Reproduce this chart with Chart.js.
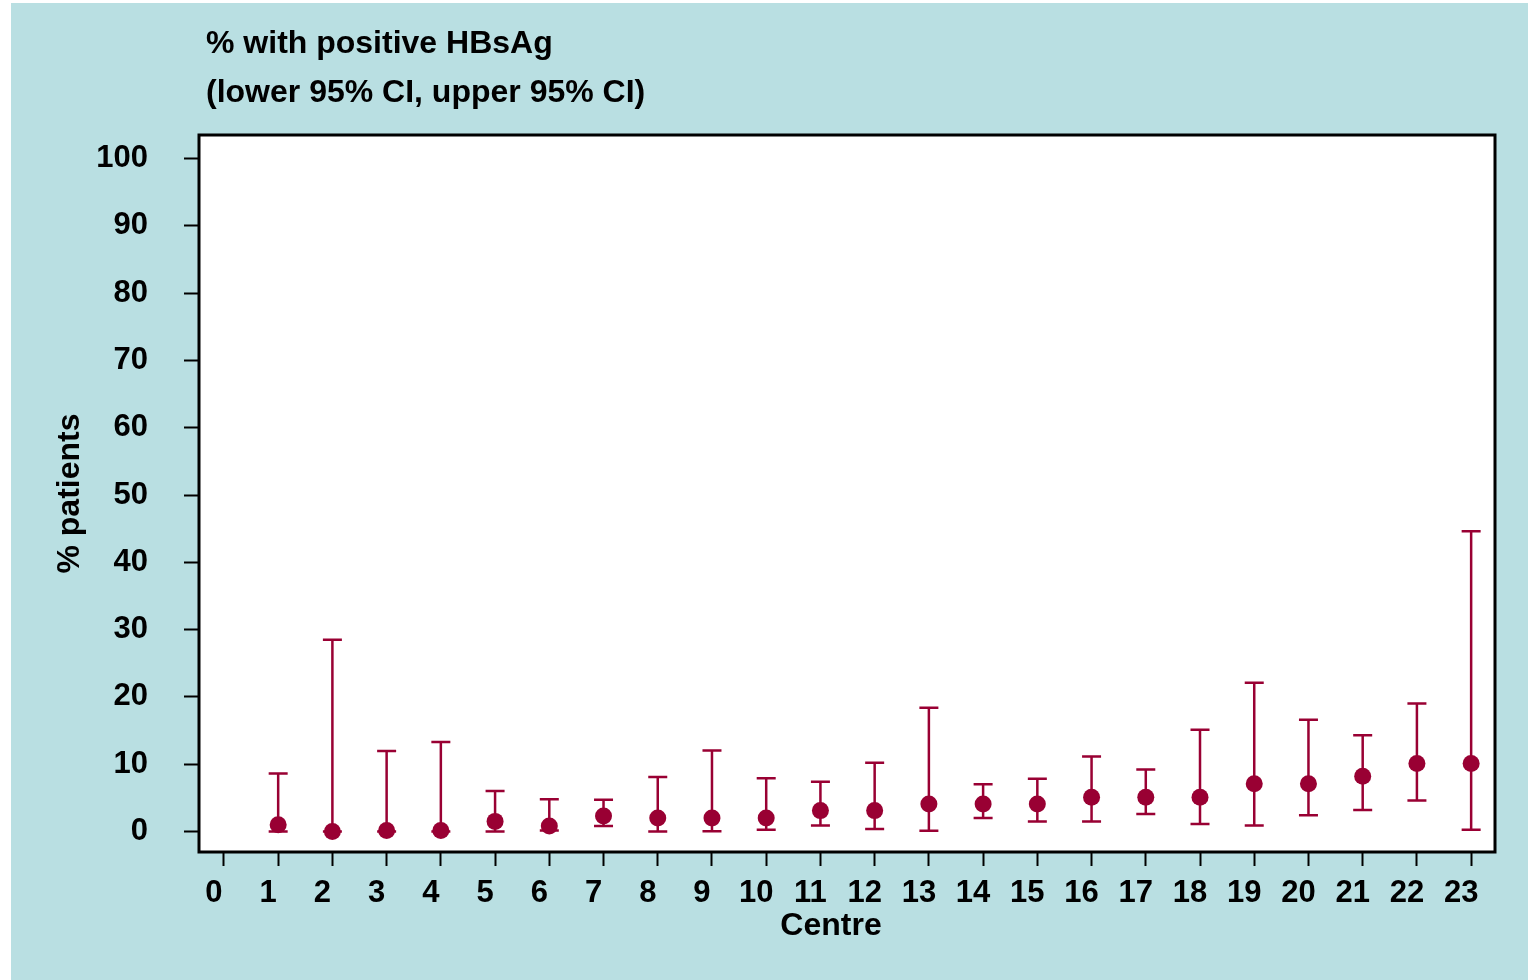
<!DOCTYPE html>
<html>
<head>
<meta charset="utf-8">
<script src="https://cdn.jsdelivr.net/npm/chart.js@4/dist/chart.umd.min.js"></script>
<style>
  html, body { margin: 0; padding: 0; background: #ffffff; }
  #wrap { position: absolute; left: 0; top: 0; width: 1528px; height: 980px; }
  canvas { display: block; }
</style>
</head>
<body>
<div id="wrap"><canvas id="c" width="1528" height="980"></canvas></div>
<script>
// ---- data ----
const titleLines = ['% with positive HBsAg', '(lower 95% CI, upper 95% CI)'];
const xAxisTitle = 'Centre';
const yAxisTitle = '% patients';
const centres  = [1, 2, 3, 4, 5, 6, 7, 8, 9, 10, 11, 12, 13, 14, 15, 16, 17, 18, 19, 20, 21, 22, 23];
const percent  = [1.0, 0.0, 0.15, 0.15, 1.5, 0.8, 2.3, 2.0, 2.0, 2.0, 3.1, 3.1, 4.1, 4.1, 4.1, 5.1, 5.1, 5.1, 7.1, 7.1, 8.2, 10.1, 10.1];
const lowerCI  = [0.0, 0.0, 0.0, 0.0, 0.0, 0.15, 0.8, 0.0, 0.05, 0.25, 0.9, 0.35, 0.1, 2.0, 1.5, 1.5, 2.6, 1.1, 0.9, 2.4, 3.2, 4.6, 0.25];
const upperCI  = [8.6, 28.5, 11.95, 13.3, 6.0, 4.8, 4.7, 8.1, 12.05, 7.9, 7.4, 10.2, 18.4, 7.0, 7.84, 11.16, 9.2, 15.1, 22.1, 16.6, 14.3, 19.0, 44.6];
const xTickValues = [0, 1, 2, 3, 4, 5, 6, 7, 8, 9, 10, 11, 12, 13, 14, 15, 16, 17, 18, 19, 20, 21, 22, 23];
const yTickValues = [0, 10, 20, 30, 40, 50, 60, 70, 80, 90, 100];

// ---- styling ----
const FONT_FAMILY = '"Liberation Sans", Arial, Helvetica, sans-serif';
const MARK = '#990033';
const PANEL = '#b9dfe2';

const backgroundPlugin = {
  id: 'bgPanel',
  beforeDraw(chart) {
    const ctx = chart.ctx;
    const a = chart.chartArea;
    ctx.save();
    ctx.fillStyle = '#ffffff';
    ctx.fillRect(0, 0, chart.width, chart.height);
    ctx.fillStyle = PANEL;
    ctx.fillRect(11, 3, chart.width - 11, chart.height - 3);
    ctx.fillStyle = '#ffffff';
    ctx.fillRect(a.left, a.top, a.right - a.left, a.bottom - a.top);
    ctx.restore();
  }
};

const errorBarPlugin = {
  id: 'errorBars',
  beforeDatasetsDraw(chart) {
    const ctx = chart.ctx;
    const xs = chart.scales.x, ys = chart.scales.y;
    ctx.save();
    ctx.strokeStyle = MARK;
    ctx.lineWidth = 2.5;
    const cap = 9.5;
    centres.forEach((c, i) => {
      const x = xs.getPixelForValue(c);
      const yl = ys.getPixelForValue(lowerCI[i]);
      const yu = ys.getPixelForValue(upperCI[i]);
      ctx.beginPath();
      ctx.moveTo(x, yl); ctx.lineTo(x, yu);
      ctx.moveTo(x - cap, yu); ctx.lineTo(x + cap, yu);
      ctx.moveTo(x - cap, yl); ctx.lineTo(x + cap, yl);
      ctx.stroke();
    });
    ctx.restore();
  }
};

const framePlugin = {
  id: 'frameAndTexts',
  afterDraw(chart) {
    const ctx = chart.ctx;
    const a = chart.chartArea;
    ctx.save();
    ctx.strokeStyle = '#000000';
    ctx.lineWidth = 3;
    ctx.strokeRect(a.left, a.top, a.right - a.left, a.bottom - a.top);
    ctx.fillStyle = '#000000';
    ctx.font = 'bold 32px ' + FONT_FAMILY;
    ctx.textAlign = 'left';
    ctx.textBaseline = 'alphabetic';
    ctx.fillText(titleLines[0], 206, 53);
    ctx.fillText(titleLines[1], 206, 102);
    ctx.textAlign = 'center';
    ctx.fillText(xAxisTitle, 831, 935);
    ctx.restore();
  }
};

const tickFont = { family: FONT_FAMILY, size: 31, weight: 'bold' };
const axisTitleFont = { family: FONT_FAMILY, size: 32, weight: 'bold' };

new Chart(document.getElementById('c'), {
  type: 'scatter',
  data: {
    datasets: [{
      label: '% with positive HBsAg',
      data: centres.map((c, i) => ({ x: c, y: percent[i] })),
      backgroundColor: MARK,
      borderColor: MARK,
      borderWidth: 0,
      pointRadius: 8.5,
      pointHoverRadius: 8.5
    }]
  },
  options: {
    responsive: false,
    devicePixelRatio: 1,
    animation: false,
    layout: { padding: { left: 0, top: 135, right: 33, bottom: 0 } },
    plugins: {
      legend: { display: false },
      tooltip: { enabled: false },
      title: { display: false }
    },
    scales: {
      x: {
        type: 'linear',
        min: -0.46,
        max: 23.44,
        afterBuildTicks(scale) { scale.ticks = xTickValues.map(v => ({ value: v })); },
        afterFit(scale) { scale.height = 128; },
        grid: { display: true, drawOnChartArea: false, drawTicks: true, tickLength: 14, tickWidth: 2, tickColor: '#000000' },
        border: { display: false },
        ticks: { font: tickFont, color: '#000000', padding: 9, labelOffset: -10, autoSkip: false, maxRotation: 0, minRotation: 0 },
        title: { display: false }
      },
      y: {
        type: 'linear',
        min: -3.05,
        max: 103.5,
        afterBuildTicks(scale) { scale.ticks = yTickValues.map(v => ({ value: v })); },
        afterFit(scale) { scale.width = 199; },
        grid: { display: true, drawOnChartArea: false, drawTicks: true, tickLength: 15, tickWidth: 2, tickColor: '#000000' },
        border: { display: false },
        ticks: { font: tickFont, color: '#000000', padding: 36, autoSkip: false },
        title: { display: true, text: yAxisTitle, font: axisTitleFont, color: '#000000', padding: { top: 51, bottom: 0 } }
      }
    }
  },
  plugins: [backgroundPlugin, errorBarPlugin, framePlugin]
});
</script>
</body>
</html>
